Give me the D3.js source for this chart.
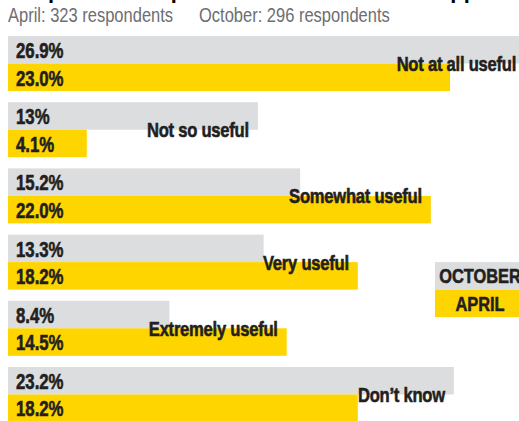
<!DOCTYPE html>
<html lang="en">
<head>
    <meta charset="UTF-8">
    <title>Usefulness ratings, April vs October</title>
    <script src="https://d3js.org/d3.v7.min.js"></script>
    <style>
        html, body { margin: 0; padding: 0; background: #fff; overflow: hidden; }
        svg { display: block; }
        text { font-family: "Liberation Sans", Arial, sans-serif; fill: #231f20; }
        .pct, .cat, .legend { font-weight: bold; stroke: #231f20; stroke-width: 0.6px; }
        .pct { font-size: 21.5px; }
        .cat { font-size: 21px; letter-spacing: -0.3px; }
        .sub { font-size: 20px; fill: #6d6e71; }
        .legend { font-size: 20.5px; text-anchor: middle; }
    </style>
</head>
<body>
<svg width="519" height="421"></svg>

<script>
    // Data
    const categories = ["Not at all useful", "Not so useful", "Somewhat useful", "Very useful", "Extremely useful", "Don\u2019t know"];
    const october = [26.9, 13, 15.2, 13.3, 8.4, 23.2];
    const april = [23.0, 4.1, 22.0, 18.2, 14.5, 18.2];
    const octoberLabels = ["26.9%", "13%", "15.2%", "13.3%", "8.4%", "23.2%"];
    const aprilLabels = ["23.0%", "4.1%", "22.0%", "18.2%", "14.5%", "18.2%"];
    const seriesNames = ["OCTOBER", "APRIL"];
    const colors = ["#dcdddf", "#ffd500"];

    // no condensed font installed, so squash horizontally
    function place(sel, fx, fy, k) {
        sel.attr("transform", (d, i) => `translate(${fx(d, i)},${fy(d, i)}) scale(${k || 0.81},1)`);
        return sel;
    }

    const svg = d3.select("svg");

    // title sits mostly above the crop, only descenders show
    place(svg.append("text"), () => 8, () => -3)
        .style("font-size", "27px").style("font-weight", "bold").style("fill", "#000")
        .text("Respondents\u2019 opinion of the COVID Alert app");

    place(svg.append("text").attr("class", "sub"), () => 8, () => 22, 0.825).text("April: 323 respondents");
    place(svg.append("text").attr("class", "sub"), () => 199, () => 22, 0.825).text("October: 296 respondents");

    const x = d3.scaleLinear().domain([0, 27]).range([8, 8 + 27 * 19.22]);
    const y = d3.scaleBand().domain(categories).range([36, 422]).paddingInner(0.169).paddingOuter(0);
    const sub = d3.scaleBand().domain(seriesNames).range([0, y.bandwidth()]);

    const rows = categories.map((c, i) => ({
        cat: c,
        vals: [
            { s: "OCTOBER", v: october[i], label: octoberLabels[i] },
            { s: "APRIL", v: april[i], label: aprilLabels[i] }
        ]
    }));

    const g = svg.selectAll("g.row").data(rows).enter().append("g")
        .attr("class", "row")
        .attr("transform", d => `translate(0,${y(d.cat)})`);

    g.selectAll("rect").data(d => d.vals).enter().append("rect")
        .attr("x", x(0))
        .attr("y", d => sub(d.s))
        .attr("width", d => x(d.v) - x(0))
        .attr("height", sub.bandwidth())
        .attr("fill", (d, i) => colors[i]);

    place(g.selectAll("text.pct").data(d => d.vals).enter().append("text").attr("class", "pct"),
        () => 16, d => sub(d.s) + 22, 0.78)
        .text(d => d.label);

    // category label: right aligned just inside the longer bar, on the seam
    place(g.append("text").attr("class", "cat").attr("text-anchor", "end"),
        d => x(d3.max(d.vals, v => v.v)) - 9, () => sub("APRIL") + 7.5, 0.79)
        .text(d => d.cat);

    // legend, aligned with the fourth row's lower bar
    const ly = y(categories[3]) + sub("APRIL");
    const legend = svg.append("g").attr("transform", `translate(435,${ly})`);
    seriesNames.forEach((s, i) => {
        legend.append("rect")
            .attr("x", 0).attr("y", i * sub.bandwidth())
            .attr("width", 90).attr("height", sub.bandwidth())
            .attr("fill", colors[i]);
        place(legend.append("text").attr("class", "legend"), () => 45, () => i * sub.bandwidth() + 21, 0.8)
            .text(s);
    });
</script>
</body>
</html>
